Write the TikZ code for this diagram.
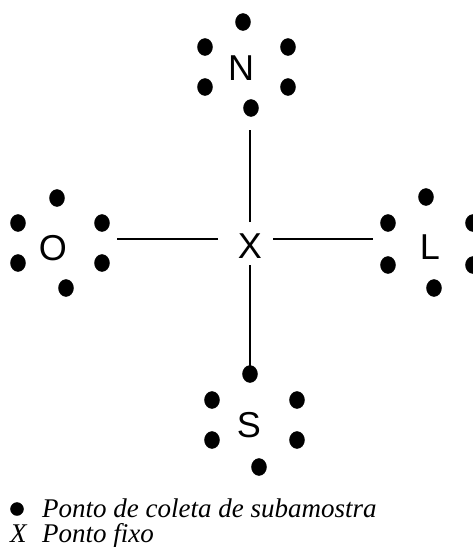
\documentclass[tikz,border=0pt]{standalone}
\usepackage{fontspec}
\setmainfont{Liberation Serif}
\setsansfont{Liberation Sans}

\begin{document}
\begin{tikzpicture}[x=1pt, y=-1pt,
		point/.style={fill=black},
		site/.style={font=\sffamily\fontsize{36}{36}\selectfont, inner sep=0},
		legend/.style={font=\itshape\fontsize{27}{30}\selectfont, anchor=base west, inner sep=0}]
		\useasboundingbox (0,0) rectangle (472,547);

		% pontos cardeais
		\node[site] (N) at (241,68) {N};
		\node[site] (S) at (249,425) {S};
		\node[site] (O) at (53,248) {O};
		\node[site] (L) at (430,247) {L};
		\node[site, text height=38pt, text depth=0pt] (X) at (250,239) {X};

		% pontos de coleta
		\foreach \x/\y in {243/22, 205/47, 288/47, 205/87, 288/87, 251/108,
				57/198, 18/223, 102/223, 18/263, 102/263, 66/288,
				426/197, 388/223, 473/223, 388/265, 473/265, 434/288,
				250/374, 212/400, 297/400, 212/440, 297/440, 259/467} {
			\filldraw[point] (\x,\y) circle [x radius=7.5, y radius=8.5];
		}

		\coordinate (nEnd) at (250,130);
		\coordinate (sEnd) at (250,366);
		\coordinate (oEnd) at (117,239);
		\coordinate (lEnd) at (373,239);
		\draw[line width=1.1pt, shorten <=17pt] (X.center) -- (nEnd);
		\draw[line width=1.1pt, shorten <=26pt] (X.center) -- (sEnd);
		\draw[line width=1.1pt, shorten <=32pt] (X.center) -- (oEnd);
		\draw[line width=1.1pt, shorten <=23pt] (X.center) -- (lEnd);

		% legenda
		\filldraw[point] (17,509) circle (6.5);
		\node[legend] (leg1) at (42,517) {Ponto de coleta de subamostra};
		\node[legend] (legX) at (10,542) {X};
		\node[legend] (leg2) at (42,542) {Ponto fixo};
	\end{tikzpicture}
\end{document}
